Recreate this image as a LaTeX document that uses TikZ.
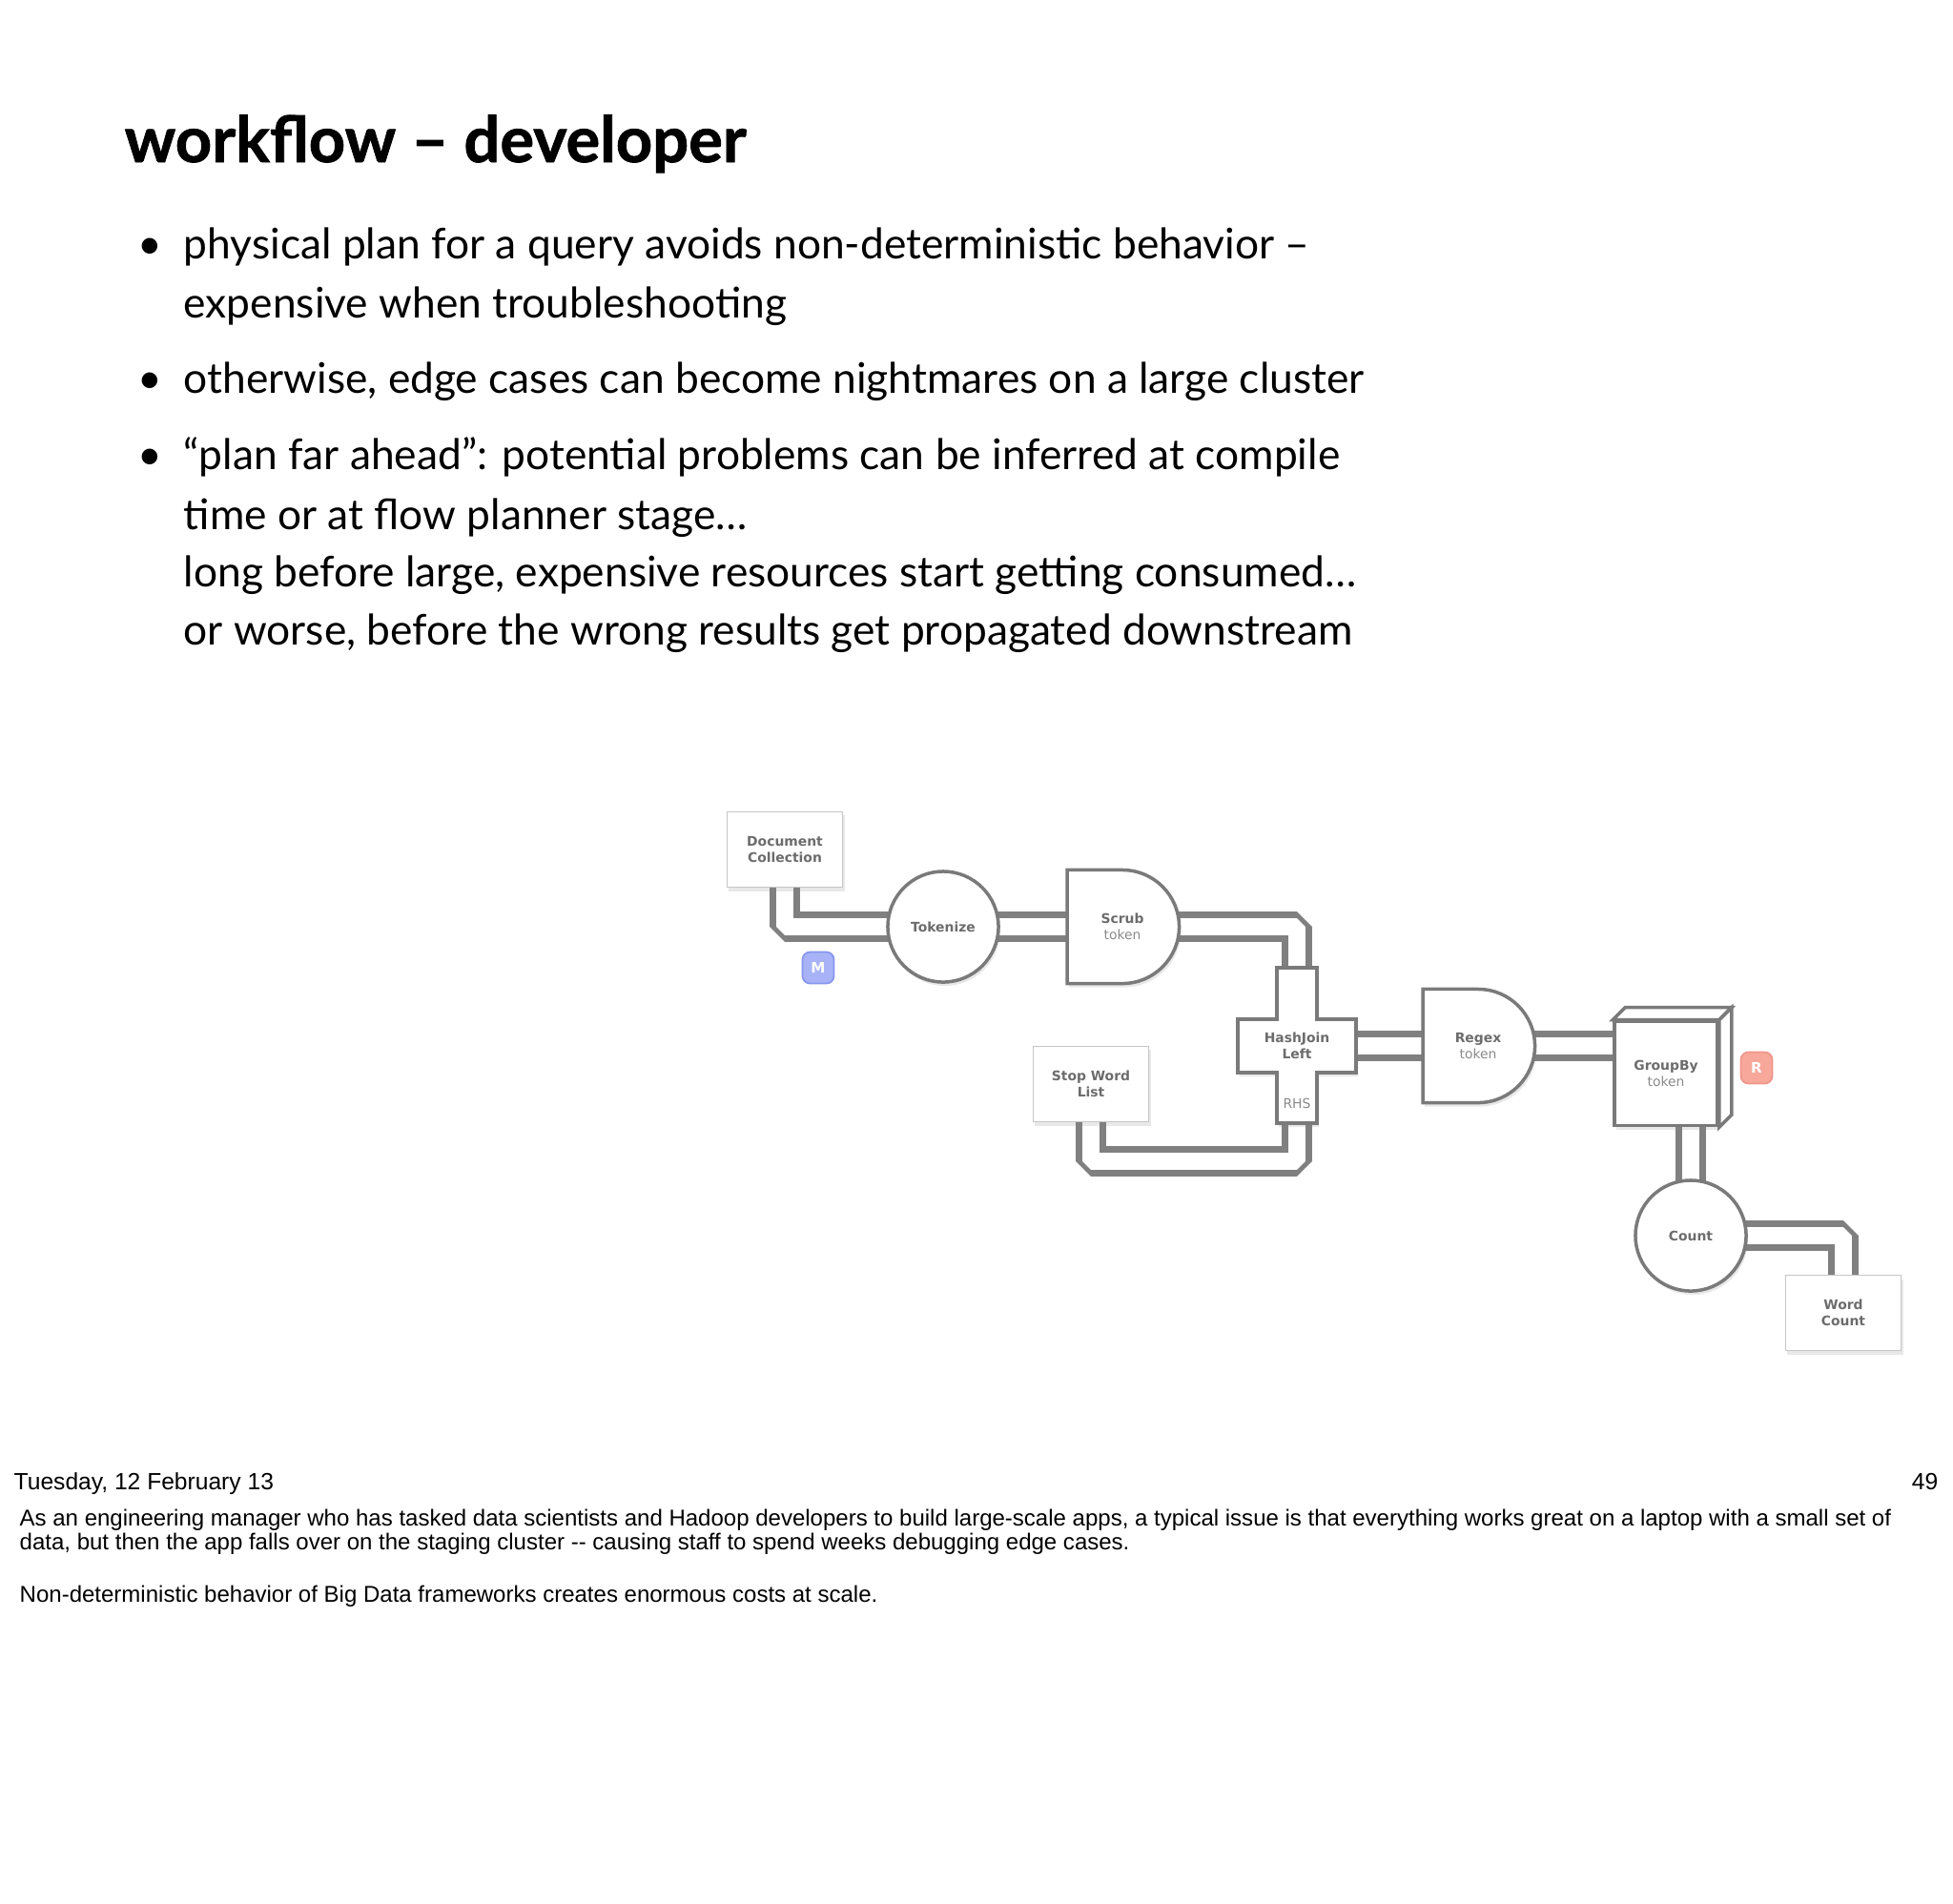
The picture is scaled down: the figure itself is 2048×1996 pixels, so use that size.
\documentclass[tikz,border=0pt]{standalone}
\usepackage{fontspec}
\setmainfont{Lato}
\newfontfamily\titlefont{Lato}[BoldFeatures={FakeBold=1.2}]
\newfontfamily\planfont{DejaVu Sans}
\newfontfamily\notefont{Liberation Sans}
\usepackage{tikz}
\usetikzlibrary{shapes.misc, shadows, backgrounds, positioning, calc}
\definecolor{pipegray}{RGB}{128, 128, 128}
\definecolor{edgegray}{RGB}{122, 122, 122}
\definecolor{labelgray}{RGB}{108, 108, 108}
\definecolor{subgray}{RGB}{138, 138, 138}
\definecolor{mapblue}{RGB}{168, 179, 247}
\definecolor{mapedge}{RGB}{136, 150, 238}
\definecolor{reducered}{RGB}{247, 168, 155}
\definecolor{reduceedge}{RGB}{240, 150, 138}
\newcommand{\sub}[1]{{\mdseries\color{subgray}#1}}
\tikzset{
  plantext/.style={font=\planfont\bfseries\fontsize{3.95}{4.85}\selectfont, text=labelgray, align=center},
  softshadow/.style={drop shadow={opacity=0.18, shadow xshift=0.02cm, shadow yshift=-0.04cm}},
  pipe/.style={draw=pipegray, line width=0.067cm, double=white, double distance=0.186cm, line join=bevel},
  tapbox/.style={plantext, rectangle, draw=gray!45, line width=0.4pt, fill=white, minimum width=1.21cm, minimum height=0.79cm, softshadow},
  opcircle/.style={plantext, circle, draw=edgegray, line width=0.035cm, fill=white, minimum size=1.16cm, softshadow},
  eachop/.style={plantext, rounded rectangle, rounded rectangle west arc=none, draw=edgegray, line width=0.035cm, fill=white, minimum width=1.2cm, minimum height=1.19cm, softshadow},
  opshape/.style={draw=edgegray, line width=0.035cm, fill=white},
  badge/.style={rectangle, rounded corners=0.08cm, minimum width=0.33cm, minimum height=0.33cm, inner sep=0pt, line width=0.5pt, text=white, font=\planfont\bfseries\fontsize{4.3}{5}\selectfont},
  bullettext/.style={anchor=base west, inner sep=0pt, font=\fontsize{12.6}{15}\selectfont},
  notetext/.style={anchor=base west, inner sep=0pt, font=\notefont\fontsize{6.83}{8}\selectfont}
}
\begin{document}
\begin{tikzpicture}[x=0.01cm, y=-0.01cm]
  \useasboundingbox (0,0) rectangle (2048,1996);

  % Title and bullets
  \node[anchor=base west, inner sep=0pt, font=\titlefont\bfseries\fontsize{19}{22}\selectfont] (title) at (130,170) {workflow – developer};
  \foreach \y in {271,412,492} {
    \node[anchor=base, inner sep=0pt, font=\fontsize{12.6}{15}\selectfont] at (157,\y) {\textbullet};
  }
  \node[bullettext] (l1) at (192,271) {physical plan for a query avoids non-deterministic behavior --};
  \node[bullettext] (l2) at (192,333) {expensive when troubleshooting};
  \node[bullettext] (l3) at (192,412) {otherwise, edge cases can become nightmares on a large cluster};
  \node[bullettext] (l4) at (192,492) {“plan far ahead”: potential problems can be inferred at compile};
  \node[bullettext] (l5) at (192,555) {time or at flow planner stage…};
  \node[bullettext] (l6) at (192,615) {long before large, expensive resources start getting consumed…};
  \node[bullettext] (l7) at (192,676) {or worse, before the wrong results get propagated downstream};

  % Flow plan
  \node[tapbox] (doc) at (823,891) {Document\\Collection};
  \node[opcircle] (tokenize) at (989,972) {Tokenize};
  \node[eachop] (scrub) at (1177,972) {Scrub\\\sub{token}};
  \node[tapbox] (stopword) at (1144,1137) {Stop Word\\List};

  \coordinate (hjc) at (1360,1097);
  \draw[opshape, softshadow, shift={(hjc)}] (-21,-82) -- (21,-82) -- (21,-28) -- (62,-28) -- (62,28) -- (21,28)
    -- (21,81) -- (-21,81) -- (-21,28) -- (-62,28) -- (-62,-28) -- (-21,-28) -- cycle;
  \node[plantext] (hashjoin) at (hjc) {HashJoin\\Left};
  \node[plantext, font=\planfont\fontsize{3.95}{4.85}\selectfont, text=subgray] (rhs) at (1360,1157) {RHS};

  \node[eachop] (regex) at (1550,1097) {Regex\\\sub{token}};

  \node[plantext, rectangle, opshape, minimum width=1.08cm, minimum height=1.09cm, softshadow] (groupby) at (1747,1126) {GroupBy\\\sub{token}};
  \draw[opshape] (groupby.north west) -- ++(13,-13) -- ($(groupby.north east)+(13,-13)$) -- (groupby.north east) -- cycle;
  \draw[opshape] (groupby.north east) -- ++(13,-13) -- ($(groupby.south east)+(13,-13)$) -- (groupby.south east) -- cycle;

  \node[opcircle] (count) at (1773,1296) {Count};
  \node[tapbox] (wordcount) at (1933,1377) {Word\\Count};

  \node[badge, fill=mapblue, draw=mapedge] (mtag) at (858,1015) {M};
  \node[badge, fill=reducered, draw=reduceedge] (rtag) at (1842,1120) {R};

  % Pipes
  \begin{scope}[on background layer]
    \draw[pipe] (doc.center) |- (tokenize.center);
    \draw[pipe] (tokenize.center) -- (scrub.center);
    \draw[pipe] (scrub.center) -| (hashjoin.center);
    \draw[pipe] (stopword.center) -- ++(0,81) -| (hashjoin.center);
    \draw[pipe] (hashjoin.center) -- (regex.center);
    \draw[pipe] (regex.center) -- (regex.center -| groupby.center);
    \draw[pipe] (count.center) -- (count.center |- groupby.center);
    \draw[pipe] (count.center) -| (wordcount.center);
  \end{scope}

  % Footer and notes
  \node[notetext, font=\notefont\fontsize{7}{8}\selectfont] (date) at (14,1562) {Tuesday, 12 February 13};
  \node[anchor=base east, inner sep=0pt, font=\notefont\fontsize{7}{8}\selectfont] (page) at (2033,1562) {49};
  \node[notetext] (n1) at (20,1600) {As an engineering manager who has tasked data scientists and Hadoop developers to build large-scale apps, a typical issue is that everything works great on a laptop with a small set of};
  \node[notetext] (n2) at (20,1625) {data, but then the app falls over on the staging cluster -{}- causing staff to spend weeks debugging edge cases.};
  \node[notetext] (n3) at (20,1680) {Non-deterministic behavior of Big Data frameworks creates enormous costs at scale.};
\end{tikzpicture}
\end{document}
